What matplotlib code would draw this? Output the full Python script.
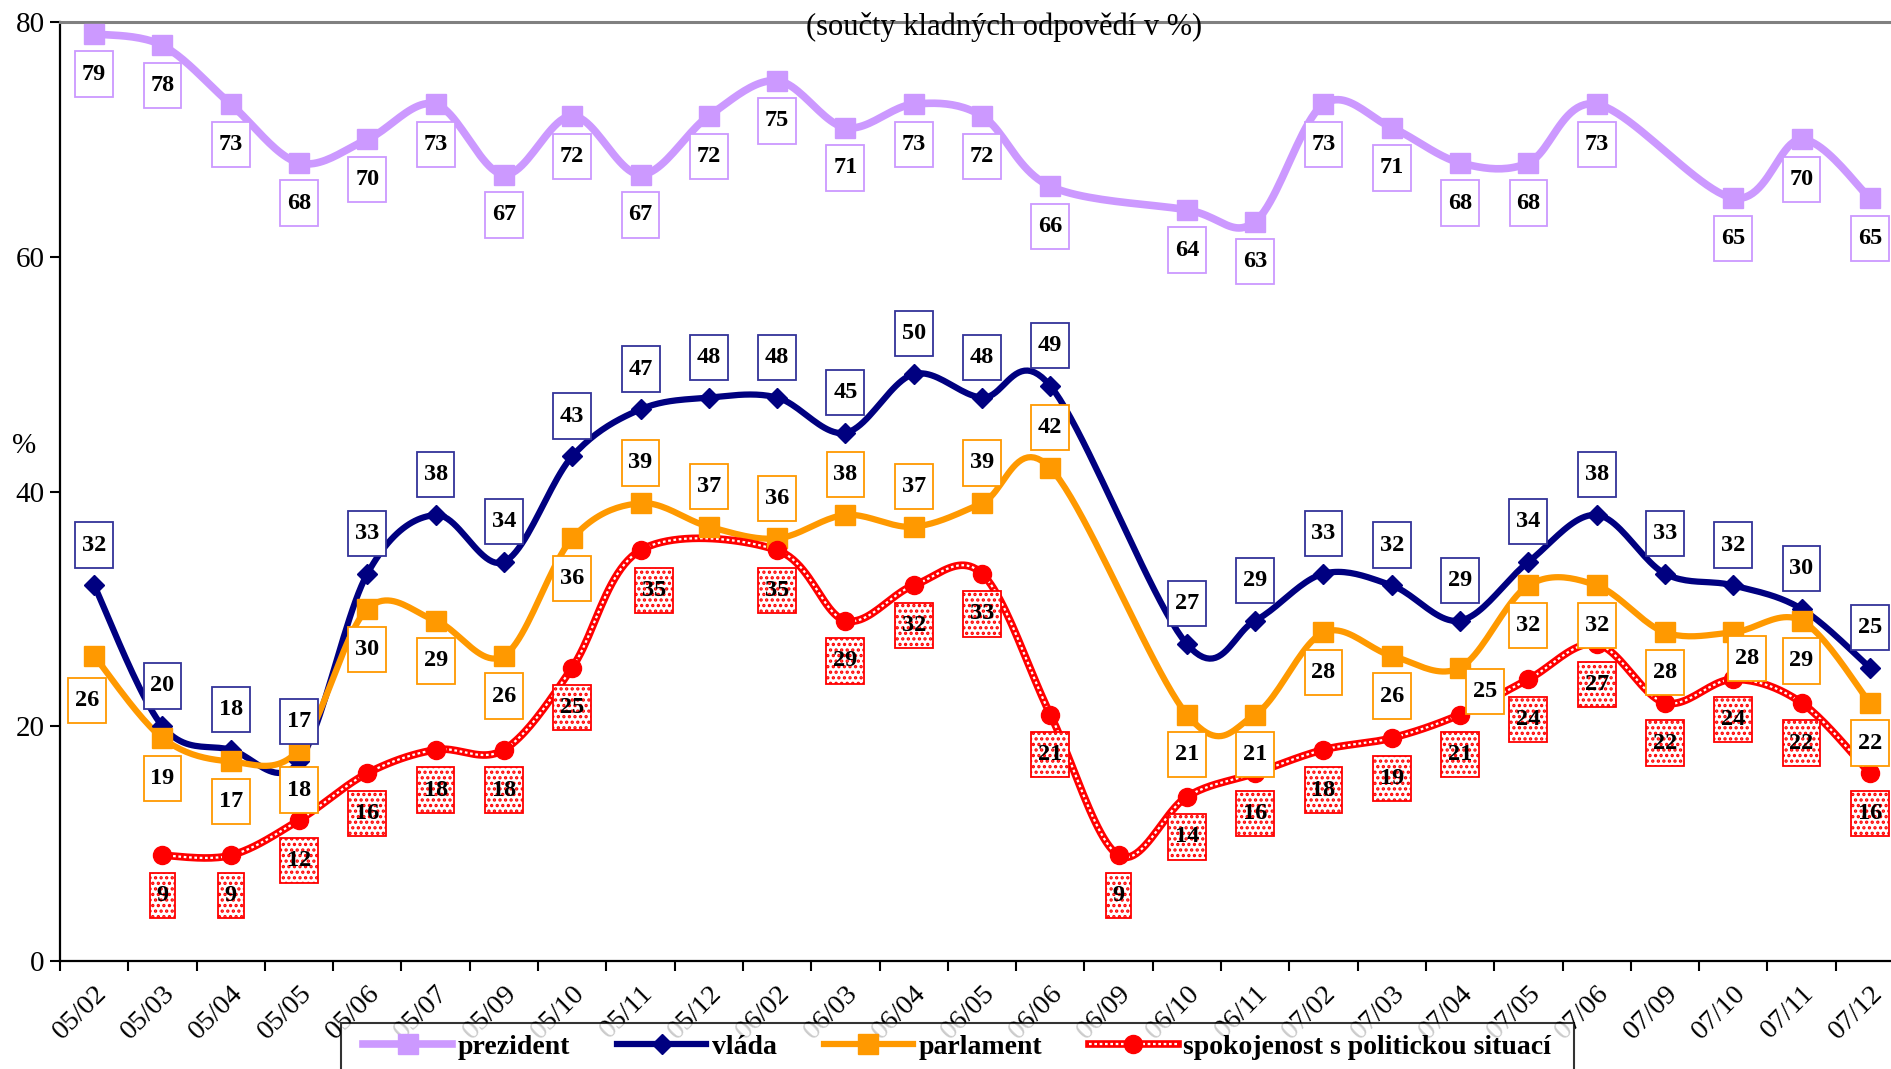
import matplotlib
matplotlib.use("Agg")
import matplotlib.pyplot as plt
from matplotlib.path import Path
from matplotlib.lines import Line2D
from matplotlib.legend_handler import HandlerTuple
import numpy as np

plt.rcParams["font.family"] = ["Liberation Serif", "DejaVu Serif"]
plt.rcParams["hatch.linewidth"] = 1.6

categories = ["05/02", "05/03", "05/04", "05/05", "05/06", "05/07", "05/09", "05/10", "05/11",
              "05/12", "06/02", "06/03", "06/04", "06/05", "06/06", "06/09", "06/10", "06/11",
              "07/02", "07/03", "07/04", "07/05", "07/06", "07/09", "07/10", "07/11", "07/12"]

prezident = [79, 78, 73, 68, 70, 73, 67, 72, 67, 72, 75, 71, 73, 72, 66, None, 64, 63, 73, 71, 68, 68,
             73, None, 65, 70, 65]
vlada = [32, 20, 18, 17, 33, 38, 34, 43, 47, 48, 48, 45, 50, 48, 49, None, 27, 29, 33, 32, 29, 34, 38,
         33, 32, 30, 25]
parlament = [26, 19, 17, 18, 30, 29, 26, 36, 39, 37, 36, 38, 37, 39, 42, None, 21, 21, 28, 26, 25, 32,
             32, 28, 28, 29, 22]
spokojenost = [None, 9, 9, 12, 16, 18, 18, 25, 35, None, 35, 29, 32, 33, 21, 9, 14, 16, 18, 19, 21, 24,
               27, 22, 24, 22, 16]

names = ["prezident", "vláda", "parlament", "spokojenost s politickou situací"]


def smooth(xs, ys, n=24):
    # Excel-like smoothed line (Bezier through the points)
    pts = np.column_stack([xs, ys]).astype(float)
    out = []
    for i in range(len(pts) - 1):
        p0 = pts[i - 1] if i > 0 else pts[i]
        p1, p2 = pts[i], pts[i + 1]
        p3 = pts[i + 2] if i + 2 < len(pts) else pts[i + 1]
        c1 = p1 + (p2 - p0) / 6
        c2 = p2 - (p3 - p1) / 6
        t = np.linspace(0, 1, n)[:, None]
        seg = (1 - t) ** 3 * p1 + 3 * (1 - t) ** 2 * t * c1 + 3 * (1 - t) * t ** 2 * c2 + t ** 3 * p2
        out.append(seg if i == 0 else seg[1:])
    s = np.vstack(out)
    return s[:, 0], s[:, 1]


def tall_box(x0, y0, width, height, mutation_size):
    px, py = 0.28 * mutation_size, 0.5 * mutation_size
    return Path([(x0 - px, y0 - py), (x0 + width + px, y0 - py), (x0 + width + px, y0 + height + py),
                 (x0 - px, y0 + height + py), (x0 - px, y0 - py)], closed=True)


def wide_box(x0, y0, width, height, mutation_size):
    px = 0.4 * mutation_size
    return Path([(x0 - px, y0), (x0 + width + px, y0), (x0 + width + px, y0 + height),
                 (x0 - px, y0 + height), (x0 - px, y0)], closed=True)


def valid(vals):
    x = np.array([i for i, v in enumerate(vals) if v is not None])
    y = np.array([v for v in vals if v is not None], dtype=float)
    return x, y


fig = plt.figure(figsize=(18.91, 10.69), dpi=100)
ax = fig.add_axes([60 / 1891, 108 / 1069, 1844 / 1891, 939 / 1069])

purple, navy, orange, red = "#cc99ff", "#000080", "#ff9900", "#ff0000"

# lines
x, y = valid(prezident)
sx, sy = smooth(x, y)
ax.plot(sx, sy, color=purple, lw=5.5, solid_capstyle="round", zorder=3)
ax.plot(x, y, ls="none", marker="s", ms=14, color=purple, zorder=4)

x, y = valid(vlada)
sx, sy = smooth(x, y)
ax.plot(sx, sy, color=navy, lw=4.5, solid_capstyle="round", zorder=3)
ax.plot(x, y, ls="none", marker="D", ms=10.5, color=navy, zorder=4)

x, y = valid(parlament)
sx, sy = smooth(x, y)
ax.plot(sx, sy, color=orange, lw=4.5, solid_capstyle="round", zorder=3)
ax.plot(x, y, ls="none", marker="s", ms=14, color=orange, zorder=4)

x, y = valid(spokojenost)
sx, sy = smooth(x, y)
ax.plot(sx, sy, color=red, lw=5.5, zorder=3)
ax.plot(sx, sy, color="white", lw=1.6, dashes=(1.2, 1.2), zorder=3)
ax.plot(x, y, ls="none", marker="o", ms=13, color=red, zorder=4)

# data labels
off = 29
styles = [(prezident, purple, None, -off), (vlada, "#333399", None, off),
          (parlament, orange, None, -off), (spokojenost, red, "...", -off)]
shift = {(2, 0): (-5, -3), (2, 20): (18, 12), (2, 24): (10, 10), (3, 8): (10, 0)}
for k, (vals, ec, hatch, dy) in enumerate(styles):
    for i, v in enumerate(vals):
        if v is None:
            continue
        d = dy
        if k == 2 and 8 <= i <= 14:
            d = off
        ddx, ddy = shift.get((k, i), (0, 0))
        ax.annotate(str(v), (i, v), xytext=(ddx, d + ddy), textcoords="offset points",
                    ha="center", va="center", fontsize=17.5, fontweight="bold", zorder=6,
                    bbox=dict(boxstyle=tall_box, fc="white", ec=ec, lw=1.3, hatch=hatch))

ax.set_xlim(-0.5, len(categories) - 0.5)
ax.set_ylim(0, 80)
ax.set_yticks([0, 20, 40, 60, 80])
ax.set_xticks(np.arange(len(categories)))
ax.set_xticklabels(categories, rotation=45, ha="right", va="top", rotation_mode="anchor")
ax.set_xticks(np.arange(-0.5, len(categories), 1), minor=True)
ax.tick_params(axis="x", which="major", length=0, pad=14, labelsize=20.5)
ax.tick_params(axis="x", which="minor", length=7, width=1.5, direction="out")
ax.tick_params(axis="y", length=7, width=1.5, labelsize=21, pad=4)

for s in ["left", "bottom"]:
    ax.spines[s].set_linewidth(1.6)
ax.spines["top"].set_color("#808080")
ax.spines["top"].set_linewidth(2.2)
ax.spines["right"].set_visible(False)

fig.text(24 / 1891, 1 - 446 / 1069, "%", ha="center", va="center", fontsize=21)
fig.text(1004 / 1891, 1 - 27 / 1069, "(součty kladných odpovědí v %)", ha="center", va="center",
         fontsize=22)

# legend
h1 = Line2D([], [], color=purple, lw=5.5, marker="s", ms=14)
h2 = Line2D([], [], color=navy, lw=4.5, marker="D", ms=10.5)
h3 = Line2D([], [], color=orange, lw=4.5, marker="s", ms=14)
h4a = Line2D([], [], color=red, lw=5.5)
h4b = Line2D([], [], color="white", lw=1.6, dashes=(1.2, 1.2))
h4c = Line2D([], [], ls="none", color=red, marker="o", ms=13)
leg = fig.legend([h1, h2, h3, (h4a, h4b, h4c)], names, loc="upper left",
                 bbox_to_anchor=(352 / 1891, 1 - 1023 / 1069), ncol=4, frameon=True,
                 fancybox=False, edgecolor="black", handlelength=3.2, handletextpad=0.2,
                 columnspacing=1.7, borderpad=0.4, borderaxespad=0,
                 prop={"size": 20, "weight": "bold"},
                 handler_map={tuple: HandlerTuple(ndivide=1)})
leg.get_frame().set_linewidth(1.5)
leg.get_frame().set_boxstyle(wide_box)

fig.savefig("out.png", dpi=100)
